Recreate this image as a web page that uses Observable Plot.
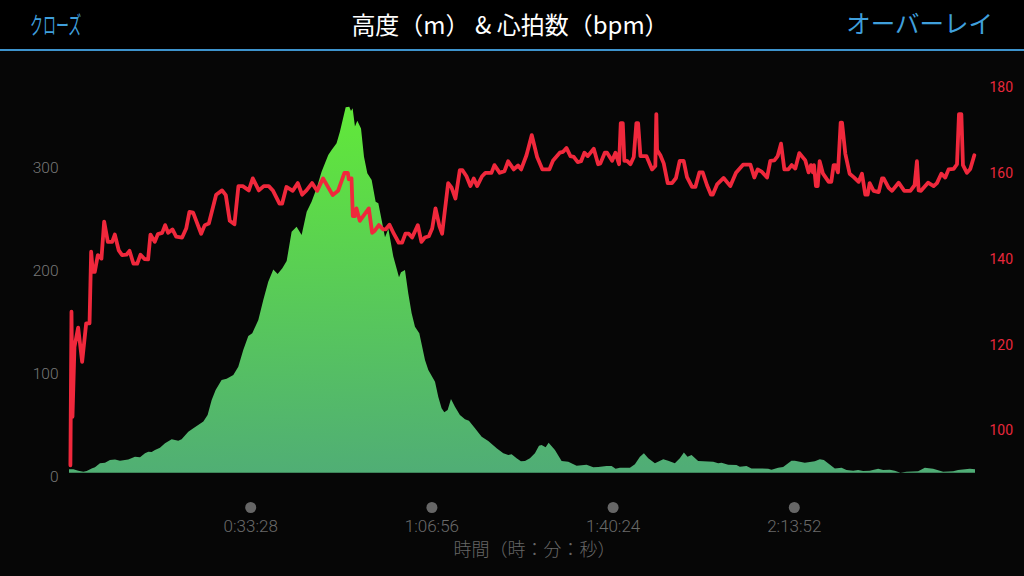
<!DOCTYPE html>
<html lang="ja">
<head>
<meta charset="utf-8">
<script src="https://cdn.jsdelivr.net/npm/d3@7"></script>
<script src="https://cdn.jsdelivr.net/npm/@observablehq/plot@0.6"></script>
<style>
html,body{margin:0;padding:0;background:#000;width:1024px;height:576px;overflow:hidden}
#head{position:relative;height:49px;border-bottom:2px solid #3d93cc;background:#000;font-family:"Noto Sans CJK JP",sans-serif}
#head div{position:absolute;white-space:nowrap;line-height:1}
#close{left:30px;top:12px;font-size:24px;color:#3f9fdc;font-weight:400;transform:scaleX(.54);transform-origin:0 50%}
#title{left:0;width:1020px;text-align:center;top:12px;font-size:24px;color:#fff;font-weight:400}
#over{right:31px;top:11px;font-size:24.5px;color:#3f9fdc;font-weight:400}
svg{display:block}
</style>
</head>
<body>
<div id="head"><div id="close">クローズ</div><div id="title">高度&#xFF08;m&#xFF09; &amp;&nbsp;心拍数&#xFF08;bpm&#xFF09;</div><div id="over">オーバーレイ</div></div>
<div id="chart"></div>
<script>
const altTimes=[0,48,103,159,196,251,288,343,399,454,510,565,657,731,787,842,879,916,953,1008,1064,1138,1211,1248,1322,1378,1489,1536,1581,1625,1691,1747,1821,1876,1931,1987,2031,2098,2153,2208,2264,2312,2364,2412,2467,2522,2578,2634,2688,2744,2799,2873,2910,2965,3002,3066,3106,3125,3143,3169,3195,3236,3269,3306,3354,3398,3428,3502,3539,3594,3657,3679,3723,3760,3797,3834,3882,3945,3982,4056,4092,4129,4159,4196,4233,4277,4332,4388,4432,4499,4573,4646,4739,4813,4868,4905,4960,5008,5053,5108,5163,5208,5237,5282,5315,5385,5459,5533,5625,5736,5810,5865,5957,6013,6057,6105,6216,6271,6327,6371,6419,6493,6585,6640,6714,6769,6814,6854,6899,6972,7139,7194,7231,7305,7397,7434,7508,7563,7748,7785,7859,7914,8006,8043,8154,8265,8320,8365,8487,8561,8616,8690,8745,8800,8874,8967,9022,9096,9151,9214,9281,9410,9484,9576,9687,9798,9853,9982,10040];
const altValues=[6.5,6.5,5.2,4.2,4.9,7.4,8.4,12.3,12.9,15.5,15.9,14.9,15.9,18.8,18.1,22,23.6,23.3,25.2,27.5,31.7,35.6,34.3,35.6,43,46.3,52.8,59.2,73.8,83.5,93.2,94.5,98.1,106.1,122.3,135.9,138.5,151.5,170.9,188.7,200.6,196.1,201.6,208.7,237.2,242.1,234,256.6,266.3,279.3,295.5,311.7,316.5,323,334.3,358,358.6,354.4,357,339.2,345,337.5,310,293.9,287.4,266.3,264.7,231.7,240,213,192.9,197.7,200,177.3,157.9,145,138.5,112.6,102.9,91.6,77,65.7,61.8,64.1,74.8,67.3,59.2,55,53.7,46.3,38.2,34,26.9,22,20.4,21,17.2,14.2,14.6,17.2,22,29.4,30,27.8,32.4,25.2,14.6,13.9,10,11,8.4,8.7,9.7,9.7,7.1,8.1,8.1,11.3,18.8,22,17.2,12.3,16.2,14.9,12.3,17.2,22.7,18.8,20.4,14.6,13.9,12.3,12.9,11,10.7,9.1,9.7,7.4,7.1,6.1,8.1,8.7,14.9,14.9,12.9,14.2,16.2,15.5,7.4,8.1,5.8,5.2,5.8,4.9,5.2,7.1,5.8,6.1,5.2,3.2,4.2,4.5,8.1,7.1,4.2,4.5,5.8,7.1,6.5];
const hrTimes=[10,22,33,55,96,140,185,222,240,258,280,314,354,384,425,473,502,546,583,631,665,709,750,787,831,871,897,945,979,1027,1060,1093,1141,1182,1248,1293,1329,1370,1459,1499,1544,1625,1691,1732,1776,1828,1872,1920,1987,2031,2098,2153,2208,2256,2327,2356,2404,2474,2530,2578,2626,2688,2744,2810,2917,2976,3047,3084,3095,3125,3140,3162,3180,3217,3317,3354,3383,3428,3476,3502,3546,3594,3649,3686,3723,3760,3797,3860,3900,3937,3982,4019,4056,4100,4129,4196,4233,4277,4325,4355,4399,4443,4480,4517,4572,4609,4676,4709,4768,4820,4861,4923,4971,5005,5064,5123,5182,5241,5318,5359,5433,5470,5507,5551,5588,5632,5669,5706,5743,5810,5858,5883,5932,5957,6013,6050,6090,6109,6131,6149,6179,6216,6253,6282,6301,6327,6393,6456,6492,6503,6511,6548,6585,6629,6677,6721,6762,6806,6843,6899,6936,6980,7017,7065,7109,7128,7176,7249,7323,7386,7464,7545,7589,7626,7674,7730,7766,7811,7848,7885,7922,7966,8003,8043,8088,8154,8191,8217,8239,8250,8272,8291,8313,8350,8413,8442,8468,8487,8516,8546,8561,8597,8645,8690,8745,8782,8819,8845,8867,8911,8967,9004,9022,9078,9115,9188,9251,9318,9365,9391,9410,9436,9514,9576,9613,9661,9705,9742,9798,9835,9857,9883,9901,9945,9982,10027];
const hrValues=[91.9,127.7,103.2,119.5,124,116,125,125,141.7,137,137,140.9,140.1,148.7,144,144,145.7,142,140.9,141,141.9,138.9,138.9,141,140,139.9,145.7,144,145.8,146.1,147.9,146.1,146.9,145.2,145,147.1,151,150.8,145.9,147.9,148.3,155,156,154.9,148.9,148.1,157,157,156,158.8,156,157,157,155.9,152.9,152.9,156.8,155.9,157.7,155,156,157.7,155.9,158.8,154.9,155.9,160.1,160.1,158.6,158.8,150,150,151.8,148.9,151.8,146.1,146.6,147.9,146.9,146.9,148,145.9,143.8,143.8,145.9,145.9,145,147.9,144,145,145.3,147.1,151.8,147.6,145.9,157.7,156.7,154.1,160.7,160.7,159.3,157,158.8,157,159.3,160.1,160.1,161.9,160.1,160.5,162.8,160.9,161.8,160.9,164.2,168.9,163.8,160.9,160.9,163,164.8,165,165.9,164,163.8,162.6,162.8,164.8,164,165.7,162.1,162.3,164.8,164.8,162.9,164.8,162.1,171.7,171.7,162.9,162.9,162.1,163.8,171.7,171.7,164,164,160.9,161.7,173.8,165.4,164.2,162.3,157.7,157.7,158.9,162.9,162.9,159.1,156.8,156.8,160.2,160.2,157.2,155,155,157.4,158.9,157,160.1,162,162,159,160.9,160.3,159,162.9,163,164,166.9,160.9,160.9,161.9,161.1,164.7,163,160.2,161.9,160.2,161.9,157,157,162.8,159.9,158,158,161.9,161.9,160.2,171.8,171.8,164.6,159.9,159.1,158,159.9,155,155,157.7,155.9,155.6,158.8,158.8,156.6,155.9,157.8,155.9,155.9,157.2,162.8,156,155.9,157.8,157,157.7,159.9,159,160.9,161,162.1,173.8,173.8,161.9,160.1,161,164.2];

const leftTicks=[0,100,200,300];
const rightTicks=[100,120,140,160,180];
const timeTicks=[2008,4016,6024,8032];
const timeLabels=["0:33:28","1:06:56","1:40:24","2:13:52"];
const altBase=3.2;
const xLabel="時間\uFF08時\uFF1A分\uFF1A秒\uFF09";

const altitude=altTimes.map((t,i)=>({t,v:altValues[i]}));
const heart=hrTimes.map((t,i)=>({t,v:hrValues[i]}));
const hrToAlt=d3.scaleLinear([100,180],[44.66,377.67]);
const font="Roboto, 'Noto Sans CJK JP', sans-serif";

const gradient=()=>{
  const svg=d3.create("svg:g");
  const g=svg.append("defs").append("linearGradient").attr("id","altFill")
    .attr("x1","0.42").attr("y1","0").attr("x2","0.5").attr("y2","1");
  g.append("stop").attr("offset","0").attr("stop-color","#61e83a");
  g.append("stop").attr("offset","1").attr("stop-color","#50ad76");
  return svg.node();
};

const chart=Plot.plot({
  width:1024,height:525,
  marginLeft:69,marginRight:49,marginTop:13,marginBottom:100,
  style:{background:"#060606",fontFamily:font},
  x:{domain:[0,10040],axis:null},
  y:{domain:[0,400],axis:null},
  marks:[
    gradient,
    Plot.areaY(altitude,{x:"t",y1:()=>altBase,y2:"v",fill:"url(#altFill)"}),
    Plot.line(heart,{x:"t",y:d=>hrToAlt(d.v),stroke:"#f0283c",strokeWidth:3.8,strokeLinejoin:"round"}),
    Plot.axisY({anchor:"left",ticks:leftTicks,tickSize:0,tickPadding:11,label:null,fontSize:15.5,color:"#787878",fontWeight:300,dy:0.8}),
    Plot.axisY({anchor:"right",ticks:rightTicks.map(h=>hrToAlt(h)),tickFormat:a=>Math.round(hrToAlt.invert(a)),tickSize:0,tickPadding:14,label:null,fontSize:14,color:"#e8283c",dy:0.5}),
    Plot.dot(timeTicks,{x:d=>d,frameAnchor:"bottom",dy:31,r:5.5,fill:"#666",stroke:null}),
    Plot.text(timeTicks,{x:d=>d,text:(d,i)=>timeLabels[i],frameAnchor:"bottom",dy:55,fontSize:17,fill:"#6a6a6a",fontWeight:300,letterSpacing:0.4}),
    Plot.text([xLabel],{x:()=>5152,text:d=>d,frameAnchor:"bottom",dy:79,fontSize:18,fill:"#666",fontFamily:"'Noto Sans CJK JP',sans-serif",fontWeight:300})
  ]
});
document.getElementById("chart").append(chart);
</script>
</body>
</html>
